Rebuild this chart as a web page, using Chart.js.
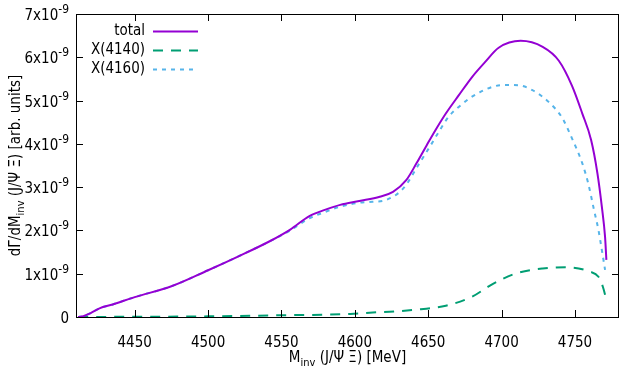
<!DOCTYPE html>
<html>
<head>
<meta charset="utf-8">
<script src="https://cdn.jsdelivr.net/npm/chart.js@4/dist/chart.umd.min.js"></script>
<style>
  html, body { margin: 0; padding: 0; background: #fff; }
  #wrap { width: 640px; height: 384px; }
</style>
</head>
<body>
<div id="wrap"><canvas id="dist" width="640" height="384"></canvas></div>
<script>
"use strict";

// invariant mass (MeV) and dGamma/dM in units of 1e-9
var massTotal = [4411.5, 4415, 4420, 4426, 4435, 4450, 4475, 4500, 4520, 4542, 4556, 4569, 4580, 4590, 4603, 4617, 4626, 4635, 4642, 4649, 4655, 4662, 4671, 4680, 4689, 4698, 4713, 4728, 4739, 4748, 4755, 4761, 4765.3, 4768.3, 4770.5, 4771.4];
var total = [0, 0.02, 0.09, 0.2, 0.29, 0.46, 0.71, 1.08, 1.39, 1.75, 2.02, 2.33, 2.48, 2.59, 2.68, 2.78, 2.89, 3.16, 3.55, 3.97, 4.32, 4.70, 5.13, 5.55, 5.90, 6.22, 6.38, 6.24, 5.92, 5.34, 4.70, 4.09, 3.32, 2.55, 1.85, 1.32];

var mass4140 = [4411.5, 4450, 4500, 4550, 4597, 4610, 4628, 4645, 4662, 4680, 4690, 4696, 4710, 4728, 4744, 4760, 4766, 4769, 4771.4];
var x4140 = [0, 0.005, 0.015, 0.04, 0.07, 0.1, 0.13, 0.18, 0.26, 0.47, 0.68, 0.8, 1.01, 1.12, 1.15, 1.05, 0.93, 0.7, 0.4];

var mass4160 = [4411.5, 4415, 4420, 4426, 4435, 4450, 4475, 4500, 4520, 4542, 4556, 4569, 4580, 4590, 4603, 4612, 4621, 4633, 4644, 4651, 4658, 4664, 4671, 4678, 4685, 4694, 4701, 4712, 4721, 4732, 4741.5, 4747, 4755, 4759, 4763, 4766, 4768.3, 4770.5];
var x4160 = [0, 0.02, 0.09, 0.2, 0.29, 0.46, 0.71, 1.08, 1.39, 1.75, 2.0, 2.28, 2.43, 2.55, 2.64, 2.66, 2.70, 2.97, 3.55, 3.93, 4.32, 4.63, 4.86, 5.05, 5.19, 5.32, 5.36, 5.35, 5.24, 4.97, 4.59, 4.20, 3.55, 3.09, 2.47, 2.01, 1.55, 1.09];

var xTicks = [4450, 4500, 4550, 4600, 4650, 4700, 4750];
var yTicks = [0, 1, 2, 3, 4, 5, 6, 7];
var seriesNames = ["total", "X(4140)", "X(4160)"];

var FONT = "'DejaVu Sans Condensed', 'DejaVu Sans', sans-serif";

function pairs(xs, ys) {
	return xs.map(function (x, i) { return { x: x, y: ys[i] }; });
}

// gnuplot-like frame: border, inward ticks, y labels, key and axis titles
var frame = {
	id: 'frame',
	afterDatasetsDraw: function (chart) {
		var ctx = chart.ctx;
		var a = chart.chartArea;
		var xs = chart.scales.x, ys = chart.scales.y;
		ctx.save();
		ctx.strokeStyle = '#000';
		ctx.lineWidth = 1;
		ctx.setLineDash([]);
		ctx.strokeRect(a.left + 0.5, a.top + 0.5, a.right - a.left - 1, a.bottom - a.top);
		ctx.beginPath();
		xTicks.forEach(function (v) {
			var px = Math.round(xs.getPixelForValue(v)) + 0.5;
			ctx.moveTo(px, a.bottom); ctx.lineTo(px, a.bottom - 7);
			ctx.moveTo(px, a.top); ctx.lineTo(px, a.top + 7);
		});
		yTicks.forEach(function (v) {
			var py = Math.round(ys.getPixelForValue(v)) + 0.5;
			ctx.moveTo(a.left, py); ctx.lineTo(a.left + 7, py);
			ctx.moveTo(a.right, py); ctx.lineTo(a.right - 7, py);
		});
		ctx.stroke();

		// y tick labels, N x10^-9 with a raised exponent
		ctx.fillStyle = '#000';
		ctx.textAlign = 'right';
		ctx.textBaseline = 'alphabetic';
		yTicks.forEach(function (v) {
			var py = ys.getPixelForValue(v);
			var right = a.left - 7;
			if (v === 0) {
				ctx.font = '15px ' + FONT;
				ctx.fillText('0', right, py + 6);
				return;
			}
			ctx.font = '12px ' + FONT;
			var ew = ctx.measureText('-9').width;
			ctx.fillText('-9', right, py - 1);
			ctx.font = '15px ' + FONT;
			ctx.fillText(v + 'x10', right - ew, py + 6);
		});

		// key
		ctx.font = '15px ' + FONT;
		ctx.textAlign = 'right';
		ctx.textBaseline = 'middle';
		chart.data.datasets.forEach(function (ds, i) {
			var y = 31 + i * 19;
			ctx.fillStyle = '#000';
			ctx.fillText(ds.label, 145, y);
			ctx.strokeStyle = ds.borderColor;
			ctx.lineWidth = ds.borderWidth;
			ctx.setLineDash(ds.borderDash || []);
			ctx.beginPath();
			ctx.moveTo(153, y + 0.5); ctx.lineTo(198, y + 0.5);
			ctx.stroke();
		});
		ctx.setLineDash([]);

		// axis titles with subscript
		var parts = [["M", 15, 0], ["inv", 11, 4], [" (J/\u03a8 \u039e) [MeV]", 15, 0]];
		drawParts(ctx, parts, (a.left + a.right) / 2, 362);

		ctx.save();
		ctx.translate(20, (a.top + a.bottom) / 2);
		ctx.rotate(-Math.PI / 2);
		var yparts = [["d\u0393/dM", 15, 0], ["inv", 11, 4], [" (J/\u03a8 \u039e) [arb. units]", 15, 0]];
		drawParts(ctx, yparts, 0, 0);
		ctx.restore();
		ctx.restore();
	}
};

function drawParts(ctx, parts, cx, baseline) {
	ctx.textAlign = 'left';
	ctx.textBaseline = 'alphabetic';
	ctx.fillStyle = '#000';
	var w = 0;
	parts.forEach(function (p) { ctx.font = p[1] + 'px ' + FONT; w += ctx.measureText(p[0]).width; });
	var x = cx - w / 2;
	parts.forEach(function (p) {
		ctx.font = p[1] + 'px ' + FONT;
		ctx.fillText(p[0], x, baseline + p[2]);
		x += ctx.measureText(p[0]).width;
	});
}

var chart = new Chart(document.getElementById('dist'), {
	type: 'line',
	data: {
		datasets: [
			{
				label: seriesNames[0],
				data: pairs(massTotal, total),
				borderColor: '#9400d3',
				borderWidth: 2,
				pointRadius: 0,
				cubicInterpolationMode: 'monotone'
			},
			{
				label: seriesNames[1],
				data: pairs(mass4140, x4140),
				borderColor: '#009e73',
				borderWidth: 2,
				borderDash: [10, 8],
				pointRadius: 0,
				cubicInterpolationMode: 'monotone'
			},
			{
				label: seriesNames[2],
				data: pairs(mass4160, x4160),
				borderColor: '#56b4e9',
				borderWidth: 2,
				borderDash: [4, 5],
				pointRadius: 0,
				cubicInterpolationMode: 'monotone'
			}
		]
	},
	options: {
		responsive: false,
		animation: false,
		layout: { padding: { left: 0, top: 14, right: 21, bottom: 0 } },
		plugins: { legend: { display: false }, tooltip: { enabled: false } },
		scales: {
			x: {
				type: 'linear',
				min: 4410,
				max: 4780,
				grid: { display: false },
				border: { display: false },
				afterBuildTicks: function (s) { s.ticks = xTicks.map(function (v) { return { value: v }; }); },
				afterFit: function (s) { s.height = 67; },
				ticks: {
					padding: 9,
					color: '#000',
					font: { family: FONT, size: 15 },
					maxRotation: 0,
					callback: function (v) { return String(v); }
				}
			},
			y: {
				min: 0,
				max: 7,
				grid: { display: false },
				border: { display: false },
				afterBuildTicks: function (s) { s.ticks = yTicks.map(function (v) { return { value: v }; }); },
				afterFit: function (s) { s.width = 76; },
				ticks: { display: false }
			}
		}
	},
	plugins: [frame]
});
</script>
</body>
</html>
